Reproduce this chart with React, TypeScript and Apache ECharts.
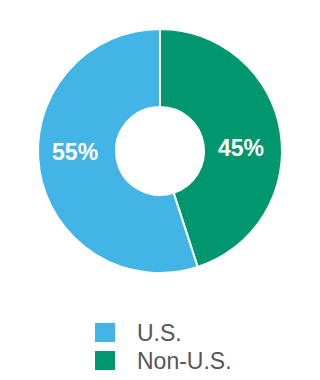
import React, { useEffect, useRef } from "react";
import * as echarts from "echarts";

const categories = ["Non-U.S.", "U.S."];
const values = [45, 55];
const colors = ["#00976F", "#42B4E6"];
const legendOrder = ["U.S.", "Non-U.S."];
const labelOffsets: [number, number][] = [[-4, 10], [0, -12]];

export default function App() {
  const ref = useRef<HTMLDivElement>(null);
  useEffect(() => {
    if (!ref.current) return;
    const chart = echarts.init(ref.current, undefined, { renderer: "svg" });
    chart.setOption({
      animation: false,
      backgroundColor: "#ffffff",
      legend: {
        data: legendOrder,
        orient: "vertical",
        left: 93,
        top: 321,
        height: 120,
        padding: 0,
        itemWidth: 22,
        itemHeight: 21,
        itemGap: 5,
        icon: "rect",
        textStyle: {
          fontFamily: "Liberation Sans, Arial, sans-serif",
          fontSize: 23,
          lineHeight: 23,
          color: "#555555",
          padding: [0, 0, 0, 16],
        },
      },
      series: [
        {
          type: "pie",
          center: [160, 151],
          radius: [44, 122],
          startAngle: 90,
          clockwise: true,
          itemStyle: { borderColor: "#ffffff", borderWidth: 2 },
          emphasis: { disabled: true },
          label: {
            show: true,
            position: "inside",
            formatter: "{c}%",
            color: "#ffffff",
            fontFamily: "Liberation Sans, Arial, sans-serif",
            fontWeight: "bold",
            fontSize: 23,
          },
          labelLine: { show: false },
          data: categories.map((name, i) => ({
            name,
            value: values[i],
            itemStyle: { color: colors[i] },
            label: { offset: labelOffsets[i] },
          })),
        },
      ],
    });
    return () => chart.dispose();
  }, []);
  return <div ref={ref} style={{ width: 320, height: 380, position: "absolute", left: 0, top: 0 }} />;
}
